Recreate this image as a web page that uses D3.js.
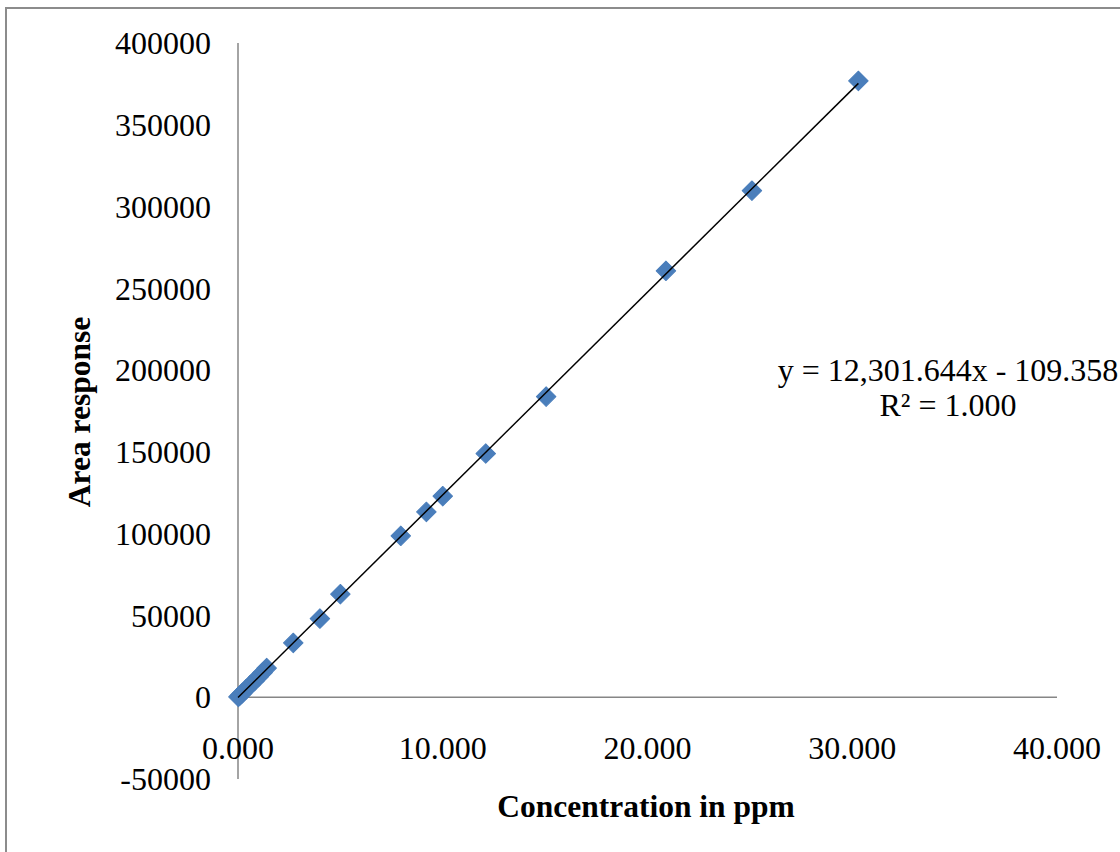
<!DOCTYPE html>
<html>
<head>
<meta charset="utf-8">
<script src="https://cdn.jsdelivr.net/npm/d3@7"></script>
<style>
  body { margin: 0; background: #fff; }
  svg text { font-family: "Liberation Serif", "Times New Roman", serif; fill: #000; }
</style>
</head>
<body>
<script>
// calibration data
var concentration = [30.3, 25.1, 20.9, 15.05, 12.1, 10.0, 9.2, 7.95, 5.0, 4.0, 2.7,
                     1.4, 1.2, 1.0, 0.8, 0.6, 0.4, 0.2, 0.1, 0.02];
var areaResponse = [376800, 309700, 260700, 183800, 149000, 122900, 113300, 98700, 63000, 48100, 33200,
                    17800, 15000, 12400, 9900, 7400, 4900, 2400, 1150, 200];
var xTicks = [0, 10, 20, 30, 40];
var yTicks = [-50000, 0, 50000, 100000, 150000, 200000, 250000, 300000, 350000, 400000];
var eqText = "y = 12,301.644x - 109.358";
var r2Text = "R\u00b2 = 1.000";

var w = 1120, h = 852;
var points = concentration.map(function(c, i) { return { x: c, y: areaResponse[i] }; });

var svg = d3.select("body").append("svg")
  .attr("width", w)
  .attr("height", h);

// outer chart border (cropped on right and bottom)
svg.append("rect")
  .attr("x", 6).attr("y", 8)
  .attr("width", 1200).attr("height", 900)
  .attr("fill", "none")
  .attr("stroke", "#8c8c8c")
  .attr("stroke-width", 2);

var x = d3.scaleLinear().domain([0, 40]).range([238, 1057]);
var y = d3.scaleLinear().domain([-50000, 400000]).range([779, 43]);

// axes lines
svg.append("line")
  .attr("x1", x(0)).attr("x2", x(0))
  .attr("y1", y(400000)).attr("y2", y(-50000))
  .attr("stroke", "#868686").attr("stroke-width", 1.5);
svg.append("line")
  .attr("x1", x(0)).attr("x2", x(40))
  .attr("y1", y(0)).attr("y2", y(0))
  .attr("stroke", "#868686").attr("stroke-width", 1.5);

// y tick labels
svg.selectAll("text.ytick")
  .data(yTicks)
  .enter()
  .append("text")
  .attr("class", "ytick")
  .attr("x", 211)
  .attr("y", function(d) { return y(d); })
  .attr("dy", "0.35em")
  .attr("text-anchor", "end")
  .attr("font-size", "32px")
  .text(function(d) { return d; });

// x tick labels (placed low, as in the original)
svg.selectAll("text.xtick")
  .data(xTicks)
  .enter()
  .append("text")
  .attr("class", "xtick")
  .attr("x", function(d) { return x(d); })
  .attr("y", 759)
  .attr("text-anchor", "middle")
  .attr("font-size", "32px")
  .text(function(d) { return d3.format(".3f")(d); });

// trendline from least squares fit
var mx = d3.mean(points, function(d) { return d.x; });
var my = d3.mean(points, function(d) { return d.y; });
var sxy = d3.sum(points, function(d) { return (d.x - mx) * (d.y - my); });
var sxx = d3.sum(points, function(d) { return (d.x - mx) * (d.x - mx); });
var slope = sxy / sxx;
var icpt = my - slope * mx;
var xMax = d3.max(concentration);

// markers
svg.selectAll("path.pt")
  .data(points)
  .enter()
  .append("path")
  .attr("class", "pt")
  .attr("d", d3.symbol().type(d3.symbolSquare).size(190))
  .attr("transform", function(d) { return "translate(" + x(d.x) + "," + y(d.y) + ") rotate(45)"; })
  .attr("fill", "#4a7ebb")
  .attr("stroke", "#4a7ebb")
  .attr("stroke-width", 1)
  .attr("stroke-linejoin", "round");

svg.append("line")
  .attr("x1", x(0)).attr("y1", y(icpt))
  .attr("x2", x(xMax)).attr("y2", y(icpt + slope * xMax))
  .attr("stroke", "#000").attr("stroke-width", 1.5);

// equation
svg.append("text")
  .attr("x", 948).attr("y", 381)
  .attr("text-anchor", "middle")
  .attr("font-size", "32px")
  .text(eqText);
svg.append("text")
  .attr("x", 948).attr("y", 416)
  .attr("text-anchor", "middle")
  .attr("font-size", "32px")
  .text(r2Text);

// axis titles
svg.append("text")
  .attr("x", 646).attr("y", 817)
  .attr("text-anchor", "middle")
  .attr("font-size", "31.5px")
  .attr("font-weight", "bold")
  .text("Concentration in ppm");
svg.append("text")
  .attr("transform", "translate(90,412) rotate(-90)")
  .attr("text-anchor", "middle")
  .attr("font-size", "31.5px")
  .attr("font-weight", "bold")
  .text("Area response");
</script>
</body>
</html>
